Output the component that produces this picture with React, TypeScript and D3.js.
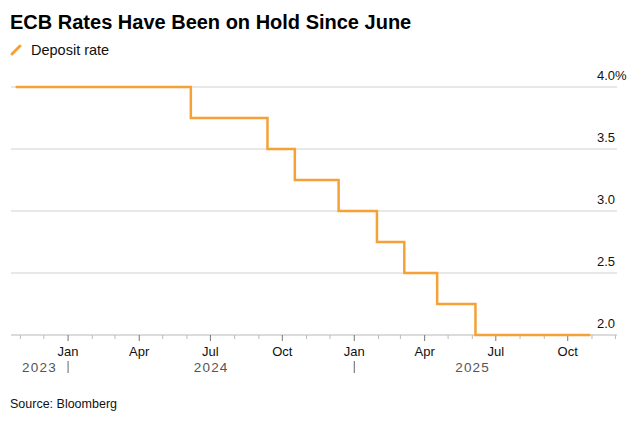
import React from 'react';
import * as d3 from 'd3';

const W = 638;
const H = 421;

// ECB deposit rate decisions (announcement dates)
const rateDates = ['2023-10-26', '2024-06-06', '2024-09-12', '2024-10-17', '2024-12-12', '2025-01-30', '2025-03-06', '2025-04-17', '2025-06-05', '2025-10-30'];
const rateValues = [4.0, 3.75, 3.5, 3.25, 3.0, 2.75, 2.5, 2.25, 2.0, 2.0];
const yTicks = [2.0, 2.5, 3.0, 3.5, 4.0];
const monthLabels = ['Jan', 'Apr', 'Jul', 'Oct'];
const years = [2023, 2024, 2025];

const parse = d3.timeParse('%Y-%m-%d');
const font = '"Liberation Sans", Arial, sans-serif';
const orange = '#f6a136';

const App: React.FC = () => {
  const data = rateDates.map((d, i) => ({ date: parse(d) as Date, value: rateValues[i] }));

  const x = d3.scaleTime()
    .domain([new Date(2023, 9, 20), new Date(2025, 11, 3)])
    .range([11, 617]);
  const y = d3.scaleLinear().domain([2, 4]).range([335, 87]);

  const line = d3.line<{ date: Date; value: number }>()
    .x(d => x(d.date))
    .y(d => y(d.value))
    .curve(d3.curveStepAfter);

  const months = x.ticks(d3.timeMonth.every(1) as any);
  const [x0, x1] = x.range();

  // year label spans within the visible range
  const yearSpans = years.map(yr => {
    const a = Math.max(x0, x(new Date(yr, 0, 1)));
    const b = Math.min(x1 - 26, x(new Date(yr + 1, 0, 1)));
    return { yr, mid: (a + b) / 2 };
  });
  const yearBreaks = years.slice(1).map(yr => x(new Date(yr, 0, 1)));

  return (
    <svg width={W} height={H} style={{ position: 'absolute', left: 0, top: 0, background: '#fff' }} fontFamily={font}>
      <text x={10} y={29} fontSize={20} fontWeight="bold" fill="#000" letterSpacing={0}>
        ECB Rates Have Been on Hold Since June
      </text>
      <line x1={12} y1={54} x2={20} y2={46} stroke={orange} strokeWidth={3} strokeLinecap="round" />
      <text x={31} y={55} fontSize={14.5} fill="#111">Deposit rate</text>

      {yTicks.map(t => (
        <g key={t}>
          <line x1={x0} x2={x1} y1={y(t)} y2={y(t)} stroke={t === 2 ? '#cfcfcf' : '#e0e0e0'} strokeWidth={t === 2 ? 1.5 : 1.3} />
          <text x={597} y={y(t) - 7} fontSize={13} fill="#111">
            {t.toFixed(1) + (t === 4 ? '%' : '')}
          </text>
        </g>
      ))}

      {months.map((m, i) => {
        const major = m.getMonth() % 3 === 0;
        return (
          <g key={i}>
            <line x1={x(m)} x2={x(m)} y1={335} y2={major ? 341 : 339} stroke={major ? '#777' : '#bbb'} strokeWidth={1} />
            {major && (
              <text x={x(m)} y={356} fontSize={13} textAnchor="middle" fill="#111">
                {monthLabels[m.getMonth() / 3]}
              </text>
            )}
          </g>
        );
      })}

      {yearSpans.map(s => (
        <text key={s.yr} x={s.mid} y={372} fontSize={13.5} textAnchor="middle" fill="#555" letterSpacing={1.2}>
          {s.yr}
        </text>
      ))}
      {yearBreaks.map((bx, i) => (
        <line key={i} x1={bx} x2={bx} y1={361} y2={373} stroke="#666" strokeWidth={1} />
      ))}

      <path d={line(data) || ''} fill="none" stroke={orange} strokeWidth={2.5} />

      <text x={10} y={408} fontSize={12.5} fill="#111">Source: Bloomberg</text>
    </svg>
  );
};

export default App;
